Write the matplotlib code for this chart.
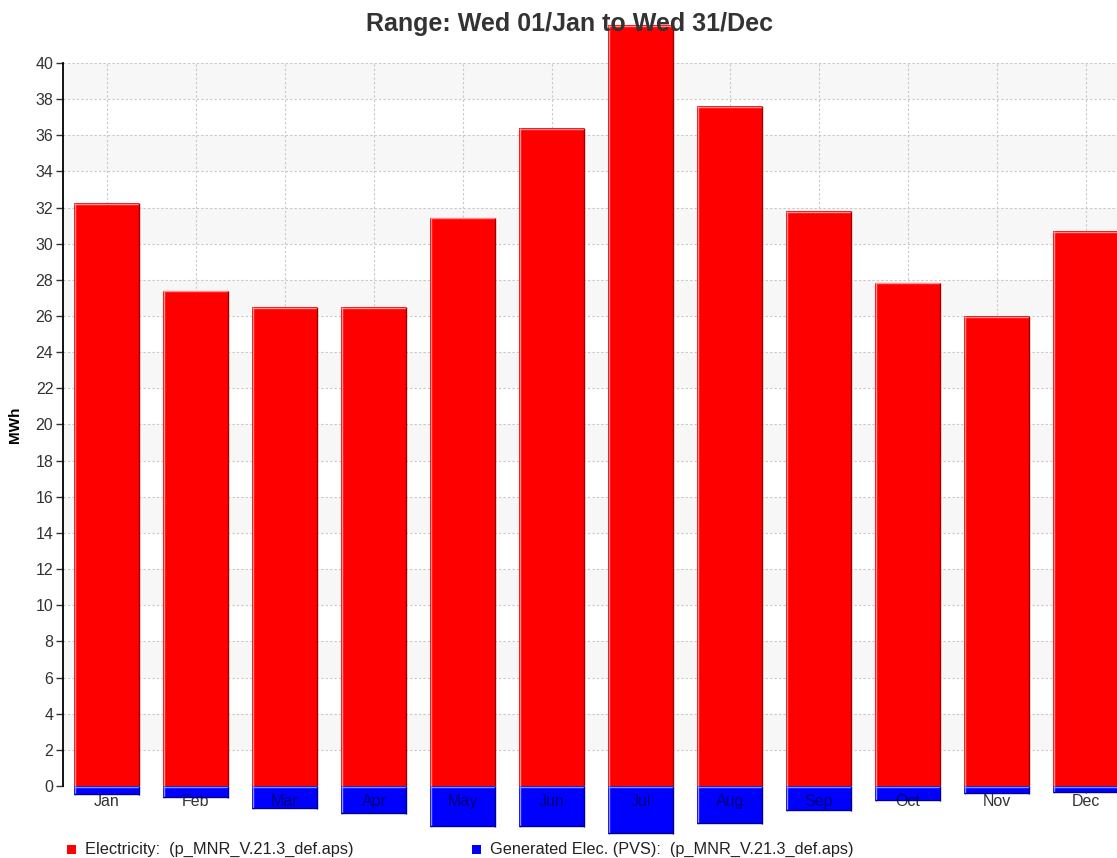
import matplotlib
matplotlib.use("Agg")
import matplotlib.pyplot as plt
from matplotlib.patches import Rectangle

plt.rcParams['font.family'] = ['Liberation Sans', 'DejaVu Sans']

months = ["Jan", "Feb", "Mar", "Apr", "May", "Jun", "Jul", "Aug", "Sep", "Oct", "Nov", "Dec"]
electricity = [32.25, 27.4, 26.5, 26.5, 31.45, 36.4, 42.1, 37.6, 31.8, 27.85, 26.0, 30.7]
generated = [-0.5, -0.66, -1.27, -1.55, -2.27, -2.27, -2.66, -2.1, -1.38, -0.83, -0.44, -0.39]
yticks = list(range(0, 41, 2))

title = "Range: Wed 01/Jan to Wed 31/Dec"
ylabel = "MWh"
legend_elec = "Electricity:  (p_MNR_V.21.3_def.aps)"
legend_gen = "Generated Elec. (PVS):  (p_MNR_V.21.3_def.aps)"

W, H = 1117, 858
fig = plt.figure(figsize=(W / 100, H / 100), dpi=100)
ax = fig.add_axes([63 / W, 1 - 786 / H, 1 - 63 / W, (786 - 63) / H])

x = list(range(len(months)))
ax.set_xlim(-0.494, 11.35)
ax.set_ylim(0, 40)

# alternating background bands
for lo in range(2, 40, 4):
    ax.axhspan(lo, lo + 2, color='#f7f7f7', zorder=0, lw=0)

ax.set_yticks(yticks)
ax.set_xticks(x)
ax.set_xticklabels([])
ax.grid(True, color='#c8c8c8', linestyle=(0, (2, 2)), linewidth=0.8)
ax.set_axisbelow('line')

bw = 0.73
bars_r = ax.bar(x, electricity, width=bw, color='#ff0000', edgecolor='none',
                zorder=2, clip_on=False)
bars_b = ax.bar(x, generated, width=bw, color='#0000ff', edgecolor='none',
                zorder=2, clip_on=False)

px = 1.0 / 89.0  # one pixel in x data units (approx)
py = 1.0 / 18.075  # one pixel in y data units

def edges(b, light, dark, neg=False):
    x0 = b.get_x()
    x1 = x0 + b.get_width()
    if neg:
        y0, y1 = b.get_y() + b.get_height(), 0.0
    else:
        y0, y1 = 0.0, b.get_height()
    kw = dict(zorder=2.2, clip_on=False, solid_capstyle='butt')
    ax.plot([x0 + px * 0.6] * 2, [y0, y1], color=light, lw=1.0, **kw)
    ax.plot([x0, x1], [y1 - py * 0.6] * 2, color=light, lw=1.0, **kw)
    ax.plot([x1 - px * 0.6] * 2, [y0, y1], color=dark, lw=1.0, **kw)
    if neg:
        ax.plot([x0, x1], [y0 + py * 0.6] * 2, color=dark, lw=1.0, **kw)

for b in bars_r:
    edges(b, '#ff9090', '#a00000')
for b in bars_b:
    edges(b, '#9090ff', '#000090', neg=True)

# month labels: grey below bars, dark navy clipped inside blue bars
label_y = -0.86
for i, m in enumerate(months):
    ax.text(i, label_y, m, ha='center', va='center', fontsize=11.5,
            color='#333333', zorder=1.5, clip_on=False)
    t = ax.text(i, label_y, m, ha='center', va='center', fontsize=11.5,
                color='#000078', zorder=3)
    t.set_clip_path(bars_b[i])
    t.set_clip_on(True)

for s in ['top', 'right', 'bottom']:
    ax.spines[s].set_visible(False)
ax.spines['left'].set_color('#000000')
ax.spines['left'].set_linewidth(1.3)
ax.spines['left'].set_zorder(3)

ax.tick_params(axis='y', length=5, width=1, color='#333333', labelsize=11.5,
               labelcolor='#333333', pad=2)
ax.tick_params(axis='x', length=5, width=1, color='#333333', pad=2, direction='out')

ax.set_ylabel(ylabel, fontsize=11, fontweight='bold', color='#000000', labelpad=10)

fig.text(570 / W, 1 - 24 / H, title, ha='center', va='center', fontsize=18,
         fontweight='bold', color='#333333', zorder=10)

# legend
fig.patches.append(Rectangle((67 / W, 1 - 854 / H), 9 / W, 9 / H, transform=fig.transFigure,
                             facecolor='#ff0000', edgecolor='none'))
fig.text(85 / W, 1 - 849 / H, legend_elec, ha='left', va='center', fontsize=11.8, color='#222222')
fig.patches.append(Rectangle((472 / W, 1 - 854 / H), 9 / W, 9 / H, transform=fig.transFigure,
                             facecolor='#0000ff', edgecolor='none'))
fig.text(490 / W, 1 - 849 / H, legend_gen, ha='left', va='center', fontsize=11.7, color='#222222')

fig.savefig("out.png", dpi=100)
